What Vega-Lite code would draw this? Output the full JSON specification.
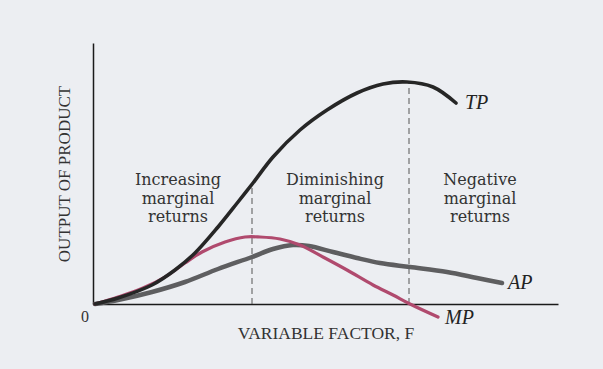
{
  "$schema": "https://vega.github.io/schema/vega-lite/v6.json",
  "width": 465,
  "height": 261,
  "autosize": {"type": "none"},
  "padding": {"left": 93, "top": 43, "right": 45, "bottom": 65},
  "background": "#eceef2",
  "config": {"view": {"stroke": null}, "font": "Liberation Serif"},
  "datasets": {
    "tp": [
      {"x": 2, "y": 0}, {"x": 25, "y": 6}, {"x": 59, "y": 19}, {"x": 82, "y": 34},
      {"x": 102, "y": 51}, {"x": 125, "y": 77}, {"x": 145, "y": 102}, {"x": 160, "y": 121},
      {"x": 180, "y": 147}, {"x": 207, "y": 174}, {"x": 234, "y": 194}, {"x": 264, "y": 211},
      {"x": 290, "y": 220}, {"x": 314, "y": 222}, {"x": 340, "y": 217}, {"x": 363, "y": 201}
    ],
    "mp": [
      {"x": 2, "y": 0}, {"x": 25, "y": 7}, {"x": 50, "y": 16}, {"x": 72, "y": 27},
      {"x": 92, "y": 41}, {"x": 109, "y": 52}, {"x": 132, "y": 62}, {"x": 152, "y": 67},
      {"x": 167, "y": 67}, {"x": 187, "y": 65}, {"x": 207, "y": 59}, {"x": 230, "y": 47},
      {"x": 254, "y": 34}, {"x": 280, "y": 19}, {"x": 300, "y": 9}, {"x": 317, "y": 0},
      {"x": 345, "y": -13}
    ],
    "ap": [
      {"x": 2, "y": 0}, {"x": 25, "y": 4}, {"x": 59, "y": 12}, {"x": 92, "y": 22},
      {"x": 125, "y": 35}, {"x": 159, "y": 47}, {"x": 180, "y": 55}, {"x": 200, "y": 59},
      {"x": 216, "y": 58}, {"x": 240, "y": 52}, {"x": 264, "y": 46}, {"x": 287, "y": 41},
      {"x": 317, "y": 37}, {"x": 354, "y": 32}, {"x": 384, "y": 26}, {"x": 409, "y": 21}
    ],
    "rules": [
      {"x": 159, "y": 0, "y2": 121},
      {"x": 316, "y": 0, "y2": 222}
    ],
    "regions": [
      {"x": 85, "y": 124, "text": "Increasing"},
      {"x": 85, "y": 105.5, "text": "marginal"},
      {"x": 85, "y": 87, "text": "returns"},
      {"x": 242, "y": 124, "text": "Diminishing"},
      {"x": 242, "y": 105.5, "text": "marginal"},
      {"x": 242, "y": 87, "text": "returns"},
      {"x": 387, "y": 124, "text": "Negative"},
      {"x": 387, "y": 105.5, "text": "marginal"},
      {"x": 387, "y": 87, "text": "returns"}
    ],
    "curvelabels": [
      {"x": 372, "y": 201, "text": "TP"},
      {"x": 415, "y": 21, "text": "AP"},
      {"x": 352, "y": -14, "text": "MP"}
    ],
    "zero": [{"x": 0, "y": 0, "text": "0"}]
  },
  "layer": [
    {
      "data": {"name": "rules"},
      "mark": {"type": "rule", "strokeDash": [6, 4], "strokeWidth": 1, "color": "#555555"},
      "encoding": {
        "x": {"field": "x", "type": "quantitative", "scale": {"domain": [0, 465], "nice": false, "zero": false},
          "axis": {"domain": true, "domainColor": "#1a1a1a", "domainWidth": 1.5, "ticks": false, "labels": false, "grid": false,
            "title": "VARIABLE FACTOR, F", "titleFont": "Liberation Serif", "titleFontSize": 17.5, "titleFontWeight": "normal", "titleColor": "#333333", "titlePadding": 20}},
        "y": {"field": "y", "type": "quantitative", "scale": {"domain": [0, 261], "nice": false, "zero": false},
          "axis": {"domain": true, "domainColor": "#1a1a1a", "domainWidth": 1.5, "ticks": false, "labels": false, "grid": false,
            "title": "OUTPUT OF PRODUCT", "titleFont": "Liberation Serif", "titleFontSize": 17, "titleFontWeight": "normal", "titleColor": "#333333", "titlePadding": 20}},
        "y2": {"field": "y2"}
      }
    },
    {
      "data": {"name": "ap"},
      "mark": {"type": "line", "interpolate": "catmull-rom", "color": "#5e5e60", "strokeWidth": 4.5, "strokeCap": "round"},
      "encoding": {
        "x": {"field": "x", "type": "quantitative"},
        "y": {"field": "y", "type": "quantitative"}
      }
    },
    {
      "data": {"name": "mp"},
      "mark": {"type": "line", "interpolate": "catmull-rom", "color": "#b04a6e", "strokeWidth": 3.2, "strokeCap": "round"},
      "encoding": {
        "x": {"field": "x", "type": "quantitative"},
        "y": {"field": "y", "type": "quantitative"}
      }
    },
    {
      "data": {"name": "tp"},
      "mark": {"type": "line", "interpolate": "catmull-rom", "color": "#262626", "strokeWidth": 3.6, "strokeCap": "round"},
      "encoding": {
        "x": {"field": "x", "type": "quantitative"},
        "y": {"field": "y", "type": "quantitative"}
      }
    },
    {
      "data": {"name": "regions"},
      "mark": {"type": "text", "font": "DejaVu Serif", "fontSize": 16, "color": "#333333", "align": "center", "baseline": "middle"},
      "encoding": {
        "x": {"field": "x", "type": "quantitative"},
        "y": {"field": "y", "type": "quantitative"},
        "text": {"field": "text"}
      }
    },
    {
      "data": {"name": "curvelabels"},
      "mark": {"type": "text", "font": "Liberation Serif", "fontStyle": "italic", "fontSize": 20, "color": "#222222", "align": "left", "baseline": "middle"},
      "encoding": {
        "x": {"field": "x", "type": "quantitative"},
        "y": {"field": "y", "type": "quantitative"},
        "text": {"field": "text"}
      }
    },
    {
      "data": {"name": "zero"},
      "mark": {"type": "text", "font": "Liberation Serif", "fontSize": 16, "color": "#333333", "align": "center", "baseline": "middle", "dx": -8, "dy": 13},
      "encoding": {
        "x": {"field": "x", "type": "quantitative"},
        "y": {"field": "y", "type": "quantitative"},
        "text": {"field": "text"}
      }
    }
  ]
}
